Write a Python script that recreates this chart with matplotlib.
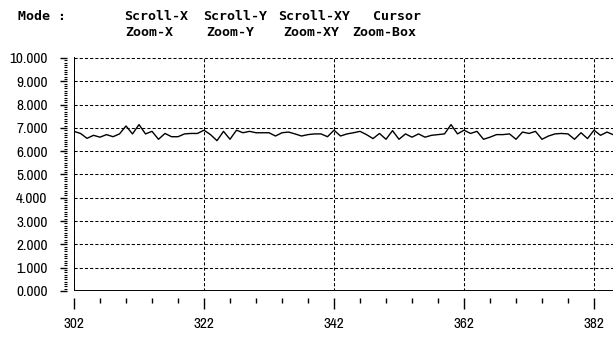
import matplotlib
matplotlib.use("Agg")
import matplotlib.pyplot as plt
from matplotlib import font_manager
from matplotlib.ticker import FixedLocator, MultipleLocator, FormatStrFormatter

# data (one sample per x step)
x_start = 302
values = [
    6.85, 6.76, 6.55, 6.68, 6.60, 6.71, 6.62, 6.74, 7.08, 6.74,
    7.14, 6.74, 6.85, 6.51, 6.76, 6.62, 6.62, 6.74, 6.76, 6.76,
    6.90, 6.71, 6.45, 6.85, 6.51, 6.90, 6.79, 6.85, 6.79, 6.79,
    6.79, 6.65, 6.79, 6.82, 6.74, 6.65, 6.71, 6.74, 6.74, 6.62,
    6.90, 6.65, 6.74, 6.79, 6.85, 6.71, 6.54, 6.76, 6.51, 6.88,
    6.51, 6.74, 6.60, 6.74, 6.60, 6.68, 6.71, 6.74, 7.14, 6.74,
    6.90, 6.76, 6.85, 6.51, 6.60, 6.71, 6.71, 6.74, 6.51, 6.82,
    6.76, 6.85, 6.51, 6.65, 6.74, 6.76, 6.74, 6.51, 6.79, 6.54,
    6.90, 6.68, 6.82, 6.70,
]
xs = [x_start + i for i in range(len(values))]

x_major = [302, 322, 342, 362, 382]
x_minor = [x for x in range(302, 386, 4) if x not in x_major]
mode_row1 = [("Scroll-X", 124), ("Scroll-Y", 203), ("Scroll-XY", 278), ("Cursor", 373)]
mode_row2 = [("Zoom-X", 125), ("Zoom-Y", 206), ("Zoom-XY", 283), ("Zoom-Box", 352)]

# look for a narrow face for the tick labels
names = sorted({f.name for f in font_manager.fontManager.ttflist})
narrow = [n for n in names if "Narrow" in n or "Condensed" in n]
lab_family = narrow[:1] + ["DejaVu Sans"]
lab_size = 11 if narrow else 8

W, H = 613, 338
fig = plt.figure(figsize=(W / 100, H / 100), dpi=100)
fig.patch.set_facecolor("white")

left, bottom = 74 / W, (H - 291) / H
top = (H - 57) / H
ax = fig.add_axes([left, bottom, 1 - left, top - bottom])

ax.plot(xs, values, color="black", lw=1.0, zorder=3)

ax.set_xlim(302, 302 + (W - 74) / 6.5)
ax.set_ylim(0, 10.04)

ax.xaxis.set_major_locator(FixedLocator(x_major))
ax.xaxis.set_minor_locator(FixedLocator(x_minor))
ax.yaxis.set_major_locator(MultipleLocator(1))
ax.yaxis.set_minor_locator(MultipleLocator(0.1))
ax.yaxis.set_major_formatter(FormatStrFormatter("%.3f"))

# ticks sit a few pixels away from the axis lines
for s in ["top", "right"]:
    ax.spines[s].set_visible(False)
for s in ["left", "bottom"]:
    ax.spines[s].set_position(("outward", 5))
    ax.spines[s].set_visible(False)

ax.axvline(302, color="black", lw=1.4, zorder=4)
ax.axhline(0, color="black", lw=1.4, zorder=4)

ax.grid(True, which="major", color="black", lw=0.75, linestyle=(0, (3, 2)))

ax.tick_params(axis="y", which="major", length=5, width=1, pad=9, labelsize=lab_size)
ax.tick_params(axis="y", which="minor", length=2.5, width=0.8)
ax.tick_params(axis="x", which="major", length=8, width=1, pad=6, labelsize=lab_size)
ax.tick_params(axis="x", which="minor", length=3.5, width=1)
for lab in ax.get_xticklabels() + ax.get_yticklabels():
    lab.set_family(lab_family)

hdr = dict(family=["DejaVu Sans Mono"], weight="bold", size=9.5, va="center", ha="left")
fig.text(18 / W, 1 - 17 / H, "Mode :", **hdr)
for txt, px in mode_row1:
    fig.text(px / W, 1 - 17 / H, txt, **hdr)
for txt, px in mode_row2:
    fig.text(px / W, 1 - 32 / H, txt, **hdr)

fig.savefig("out.png", dpi=100)
